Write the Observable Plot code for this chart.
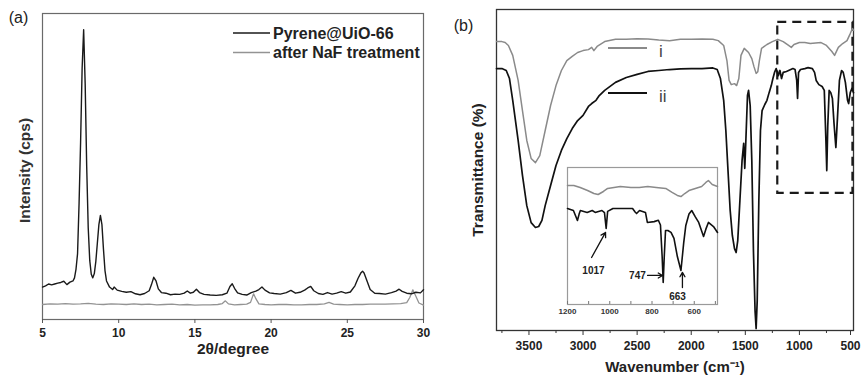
<!DOCTYPE html>
<html><head><meta charset="utf-8">
<script src="https://cdn.jsdelivr.net/npm/d3@7"></script>
<script src="https://cdn.jsdelivr.net/npm/@observablehq/plot@0.6"></script>
<style>
body{margin:0;background:#fff}
#wrap{position:relative;width:861px;height:385px;overflow:hidden;background:#fff}
#wrap > div{position:absolute}
</style></head><body>
<div id="wrap"><div id="pa" style="left:0;top:0"></div><div id="pb" style="left:430px;top:0"></div><div id="pi" style="left:557px;top:165px"></div></div>
<script>
// ---------- Panel (a): XRD ----------
const xrdTicks = [5, 10, 15, 20, 25, 30];
const xrdLegend = ["Pyrene@UiO-66", "after NaF treatment"];
const pyrene = [[5.0,10.6],[5.2,11.0],[5.4,11.6],[5.6,11.3],[5.8,11.6],[6.0,11.9],[6.2,12.1],[6.4,12.5],[6.6,11.4],[6.8,12.2],[7.0,12.6],[7.1,13.6],[7.2,16.5],[7.3,21.5],[7.4,38],[7.5,58],[7.6,82],[7.7,94.7],[7.8,77],[7.9,50],[8.0,30],[8.1,19.3],[8.2,14.8],[8.3,13.6],[8.4,15],[8.5,19],[8.6,25],[8.7,31],[8.8,34],[8.9,31],[9.0,23],[9.1,16],[9.2,12.6],[9.4,10.6],[9.6,9.8],[9.7,10.6],[9.9,9.6],[10.2,9.2],[10.5,8.9],[10.8,9.1],[11.1,8.4],[11.4,8.1],[11.7,8.5],[12.0,9.4],[12.15,11.4],[12.3,13.8],[12.45,12.6],[12.6,10.0],[12.8,8.8],[13.1,8.6],[13.4,8.1],[13.7,8.3],[14.0,8.2],[14.3,8.6],[14.5,9.3],[14.7,8.6],[14.9,8.9],[15.1,9.9],[15.3,8.8],[15.6,8.2],[16.0,8.0],[16.4,7.9],[16.8,8.1],[17.1,8.6],[17.3,10.8],[17.45,11.7],[17.6,10.2],[17.8,8.7],[18.1,8.2],[18.4,8.0],[18.7,8.8],[19.0,9.3],[19.2,9.8],[19.4,10.6],[19.6,9.6],[19.9,8.7],[20.2,8.5],[20.6,8.3],[21.0,8.8],[21.3,9.5],[21.6,8.6],[21.9,8.9],[22.2,9.6],[22.4,10.3],[22.6,10.8],[22.8,9.4],[23.1,8.5],[23.4,8.2],[23.7,8.8],[24.0,8.3],[24.3,8.6],[24.6,9.1],[24.9,8.6],[25.2,9.0],[25.5,11.0],[25.7,13.4],[25.9,15.3],[26.0,15.8],[26.1,15.2],[26.3,12.5],[26.5,9.8],[26.8,8.6],[27.1,8.5],[27.5,8.3],[27.9,8.8],[28.2,9.3],[28.4,9.9],[28.6,9.2],[28.9,8.6],[29.2,8.4],[29.5,8.9],[29.8,8.7],[30.0,9.7]];
const nafTreated = [[5.0,4.9],[5.5,5.1],[6.0,5.0],[6.5,5.2],[7.0,5.0],[7.5,5.1],[8.0,5.3],[8.5,5.0],[9.0,4.9],[9.5,5.1],[10.0,5.0],[10.5,4.9],[11.0,5.1],[11.5,4.9],[12.0,5.0],[12.5,4.8],[13.0,4.9],[13.5,5.0],[14.0,4.8],[14.5,4.9],[15.0,4.7],[15.5,4.8],[16.0,4.8],[16.5,4.9],[16.8,5.2],[17.0,6.1],[17.2,5.1],[17.6,4.8],[18.0,4.9],[18.4,5.0],[18.65,5.6],[18.85,8.4],[19.0,6.8],[19.2,5.1],[19.6,4.9],[20.0,4.8],[20.5,4.9],[21.0,4.9],[21.5,4.8],[22.0,4.8],[22.5,4.9],[23.0,4.9],[23.5,5.1],[23.8,5.6],[24.1,5.0],[24.5,4.9],[25.0,4.8],[25.5,4.9],[26.0,4.9],[26.5,5.0],[27.0,5.0],[27.5,5.0],[28.0,5.1],[28.5,5.2],[28.9,5.5],[29.1,7.2],[29.3,9.7],[29.5,7.6],[29.7,5.4],[30.0,4.7]];

// ---------- Panel (b): FTIR ----------
const ftirTicks = [3500, 3000, 2500, 2000, 1500, 1000];
const ftirEdgeTick = [500];
const ftirMinorTicks = [3750, 3250, 2750, 2250, 1750, 1250, 750];
const ftirLegend = ["i", "ii"];
const ftirI = [[3800,90.0],[3750,90.0],[3720,89.7],[3690,88.8],[3650,85.7],[3600,77.9],[3560,68.5],[3520,59.2],[3480,53.6],[3440,52.3],[3400,54.5],[3350,62.3],[3300,70.1],[3250,76.3],[3200,81.0],[3150,84.1],[3100,85.4],[3050,86.6],[3000,87.2],[2950,87.5],[2920,88.2],[2900,87.2],[2870,88.5],[2800,90.0],[2700,90.7],[2600,90.7],[2500,90.9],[2400,90.8],[2300,90.5],[2200,90.3],[2100,90.7],[2000,90.7],[1900,90.8],[1800,90.7],[1750,90.3],[1700,88.8],[1670,84.1],[1650,77.9],[1630,76.6],[1600,76.9],[1580,76.3],[1560,78.5],[1540,85.7],[1510,87.9],[1470,86.6],[1440,84.7],[1420,82.2],[1400,80.1],[1385,80.6],[1370,84.1],[1350,87.9],[1300,89.1],[1250,90.0],[1200,90.7],[1150,90.0],[1100,88.8],[1075,88.2],[1050,89.1],[1000,89.7],[950,89.7],[900,89.4],[800,89.7],[750,88.8],[700,86.9],[675,85.7],[640,88.2],[600,89.4],[560,90.3],[530,92.5],[510,94.1],[500,93.5]];
const ftirII = [[3800,81.6],[3750,81.6],[3710,81.0],[3680,78.5],[3650,71.7],[3600,59.2],[3560,48.3],[3520,38.9],[3480,33.6],[3440,32.1],[3410,32.4],[3380,34.3],[3350,38.9],[3300,45.2],[3250,51.4],[3200,56.1],[3150,59.8],[3100,62.9],[3050,65.4],[3000,67.0],[2950,69.8],[2920,70.7],[2880,71.7],[2850,73.2],[2800,74.8],[2700,77.3],[2600,78.8],[2500,79.8],[2400,80.7],[2300,81.0],[2200,81.3],[2100,81.5],[2000,81.6],[1900,81.6],[1800,81.8],[1760,81.3],[1730,78.5],[1700,71.7],[1680,62.3],[1660,49.8],[1640,37.4],[1620,29.6],[1600,25.5],[1585,24.3],[1570,28.0],[1550,40.5],[1530,53.0],[1515,58.3],[1505,50.5],[1495,59.2],[1480,73.2],[1470,74.8],[1455,70.1],[1440,53.0],[1425,24.9],[1410,6.2],[1400,0.6],[1390,9.3],[1375,40.5],[1360,62.3],[1345,68.5],[1320,70.4],[1300,71.7],[1280,74.1],[1260,76.3],[1245,78.5],[1230,80.4],[1215,81.6],[1195,79.4],[1180,81.0],[1165,78.5],[1150,80.4],[1120,80.7],[1100,81.0],[1080,81.3],[1060,81.6],[1040,81.3],[1025,77.9],[1017,72.3],[1008,80.4],[990,81.3],[950,81.6],[920,81.9],[880,81.6],[860,80.4],[845,77.9],[820,76.6],[790,76.0],[770,74.8],[755,59.2],[747,49.8],[738,63.6],[725,74.8],[710,74.1],[695,72.3],[680,64.5],[663,57.0],[648,66.4],[630,77.9],[610,81.0],[595,80.4],[575,77.3],[555,71.7],[545,70.7],[530,74.1],[515,75.4],[500,74.1]];
const zoomBox = [{from: 1200, to: 505, low: 42.7, high: 96}];

// ---------- Inset ----------
const insetTicks = [1200, 1000, 800, 600];
const insetMinorTicks = [1100, 900, 700, 500];
const insetI = [[1200,86.9],[1170,86.9],[1140,85.4],[1105,83.2],[1075,81.0],[1055,80.3],[1030,82.5],[1010,84.7],[980,85.4],[950,86.1],[900,85.4],[860,85.4],[820,86.1],[780,85.4],[735,84.7],[705,81.8],[680,79.6],[663,78.8],[645,81.0],[625,83.2],[595,84.7],[565,86.1],[545,89.1],[533,90.5],[515,87.6],[490,86.1]];
const insetII = [[1200,70.1],[1172,68.6],[1160,64],[1153,61.3],[1145,66],[1139,68.6],[1107,67.2],[1083,68.6],[1069,67.2],[1037,68.6],[1025,67.0],[1017,55.5],[1010,68.0],[985,70.1],[892,70.1],[880,67.5],[873,66.4],[859,68.6],[831,67.2],[822,59.9],[790,60.5],[770,61.5],[760,58],[752,35],[747,16.1],[742,35],[736,54],[725,54],[710,52.6],[696,48.2],[680,35],[663,24.8],[650,45],[640,57.7],[625,66],[612,68.6],[595,64],[579,59.9],[556,49.6],[545,55],[533,59.9],[509,56.9],[490,52.6]];
const annLabels = ["1017", "747", "663"];
const annTextX = [1077, 869, 679];
const annTextY = [24.8, 21.2, 5.8];
const annFromX = [1086, 821, 656];
const annFromY = [34.3, 21.2, 12.4];
const annToX = [1020, 750, 656];
const annToY = [52.6, 21.2, 23.4];

// ---------- drawing ----------
const font = '"Liberation Sans", Arial, Helvetica, sans-serif';
const X = d => d[0], Y = d => d[1];
const plain = d => String(d);

const panelA = Plot.plot({
  width: 430, height: 385,
  marginLeft: 42, marginRight: 7, marginTop: 13, marginBottom: 66,
  style: {fontFamily: font, background: "transparent", overflow: "visible"},
  x: {domain: [5, 30], label: null},
  y: {domain: [0, 100], axis: null},
  marks: [
    Plot.frame({stroke: "#6a6a6a", strokeWidth: 1.2}),
    Plot.line(nafTreated, {x: X, y: Y, stroke: "#939393", strokeWidth: 1.3}),
    Plot.line(pyrene, {x: X, y: Y, stroke: "#1a1a1a", strokeWidth: 1.4}),
    Plot.axisX({ticks: xrdTicks, tickFormat: plain, tickSize: 4, tickPadding: 5, fontSize: 12, fontWeight: "bold", fill: "#222", stroke: "#555", label: null}),
    Plot.text(["2θ/degree"], {frameAnchor: "bottom", dy: 30, lineAnchor: "middle", fontSize: 15.5, fontWeight: "bold", fill: "#222"}),
    Plot.text(["Intensity (cps)"], {frameAnchor: "left", textAnchor: "middle", dx: -17, dy: 4, rotate: -90, fontSize: 15.5, fontWeight: "bold", fill: "#333"}),
    Plot.text(["(a)"], {frameAnchor: "top-left", textAnchor: "middle", dx: -24, dy: 4, lineAnchor: "middle", fontSize: 16, fill: "#222"})
  ]
});
document.getElementById("pa").appendChild(panelA);
{
  const g = d3.select(panelA).append("g");
  const colors = ["#1a1a1a", "#939393"];
  xrdLegend.forEach((t, i) => {
    const yy = 33 + i * 19.5;
    g.append("line").attr("x1", 233).attr("x2", 270).attr("y1", yy).attr("y2", yy).attr("stroke", colors[i]).attr("stroke-width", 1.6);
    g.append("text").attr("x", 273).attr("y", yy).attr("dy", "0.35em").attr("text-anchor", "start").attr("font-size", 16).attr("font-weight", "bold").attr("fill", "#222").text(t);
  });
}

const panelB = Plot.plot({
  width: 431, height: 385,
  marginLeft: 66, marginRight: 8, marginTop: 9, marginBottom: 55,
  style: {fontFamily: font, background: "transparent", overflow: "visible"},
  x: {domain: [3800, 500], label: null},
  y: {domain: [0, 100], axis: null},
  marks: [
    Plot.frame({stroke: "#333", strokeWidth: 1.3}),
    Plot.rect(zoomBox, {x1: "from", x2: "to", y1: "low", y2: "high", fill: "none", stroke: "#1a1a1a", strokeWidth: 2.2, strokeDasharray: "9,6"}),
    Plot.line(ftirI, {x: X, y: Y, stroke: "#8a8a8a", strokeWidth: 1.5}),
    Plot.line(ftirII, {x: X, y: Y, stroke: "#111", strokeWidth: 1.7}),
    Plot.axisX({ticks: ftirMinorTicks, tickSize: 3, tickFormat: () => "", stroke: "#333", label: null}),
    Plot.axisX({ticks: ftirTicks, tickFormat: plain, tickSize: 5, tickPadding: 6, fontSize: 12, fontWeight: "bold", fill: "#222", stroke: "#333", label: null}),
    Plot.axisX({ticks: ftirEdgeTick, tickFormat: plain, tickSize: 5, tickPadding: 6, dx: -3, fontSize: 12, fontWeight: "bold", fill: "#222", stroke: "#333", label: null}),
    Plot.text(["Wavenumber (cm⁻¹)"], {frameAnchor: "bottom", dy: 37, lineAnchor: "middle", fontSize: 15, fontWeight: "bold", fill: "#222"}),
    Plot.text(["Transmittance (%)"], {frameAnchor: "left", textAnchor: "middle", dx: -18, dy: 0, rotate: -90, fontSize: 15.5, fontWeight: "bold", fill: "#222"}),
    Plot.text(["(b)"], {frameAnchor: "top-left", textAnchor: "middle", dx: -33, dy: 16, lineAnchor: "middle", fontSize: 16, fill: "#222"})
  ]
});
document.getElementById("pb").appendChild(panelB);
{
  const g = d3.select(panelB).append("g");
  const colors = ["#8a8a8a", "#111"];
  ftirLegend.forEach((t, i) => {
    const yy = 48 + i * 45;
    g.append("line").attr("x1", 178).attr("x2", 217).attr("y1", yy).attr("y2", yy).attr("stroke", colors[i]).attr("stroke-width", 1.8);
    g.append("text").attr("x", 229).attr("y", yy + 3).attr("dy", "0.35em").attr("text-anchor", "start").attr("font-size", 17).attr("fill", "#444").text(t);
  });
}

const inset = Plot.plot({
  width: 170, height: 157,
  marginLeft: 10, marginRight: 10, marginTop: 2, marginBottom: 18,
  style: {fontFamily: font, background: "transparent", overflow: "visible"},
  x: {domain: [1200, 490], label: null},
  y: {domain: [0, 100], axis: null},
  marks: [
    Plot.frame({stroke: "#9a9a9a", fill: "white", strokeWidth: 1.2}),
    Plot.line(insetI, {x: X, y: Y, stroke: "#8a8a8a", strokeWidth: 1.5}),
    Plot.line(insetII, {x: X, y: Y, stroke: "#111", strokeWidth: 1.6}),
    Plot.axisX({ticks: insetTicks.concat(insetMinorTicks), tickSize: -3, tickFormat: () => "", stroke: "#777", label: null}),
    Plot.axisX({ticks: insetTicks, tickFormat: plain, tickSize: 0, tickPadding: 4, fontSize: 8, fontWeight: "bold", fill: "#333", label: null}),
    Plot.arrow(annLabels, {x1: (d, i) => annFromX[i], y1: (d, i) => annFromY[i], x2: (d, i) => annToX[i], y2: (d, i) => annToY[i], stroke: "#111", strokeWidth: 1.3, headLength: 6}),
    Plot.text(annLabels, {x: (d, i) => annTextX[i], y: (d, i) => annTextY[i], text: d => d, fontSize: 10, fontWeight: "bold", fill: "#222"})
  ]
});
document.getElementById("pi").appendChild(inset);
</script>
</body></html>
